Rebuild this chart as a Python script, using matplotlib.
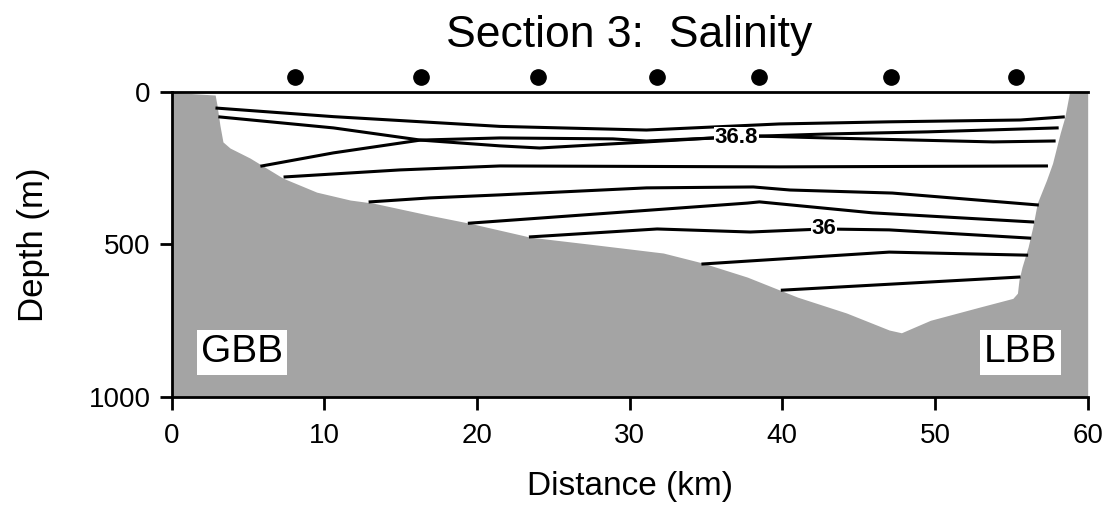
import matplotlib
matplotlib.use("Agg")
import matplotlib.pyplot as plt
import numpy as np

plt.rcParams['font.family'] = ['Liberation Sans', 'DejaVu Sans']

# station positions (km)
stations = [8.1, 16.3, 24.0, 31.8, 38.5, 47.1, 55.3]

# bottom topography: distance (km), depth (m)
bottom_x = [0.0, 2.85, 2.97, 3.16, 3.36, 3.82, 5.13, 7.29, 9.5, 11.7, 13.2, 16.9, 19.5, 23.5,
            27.9, 32.2, 34.8, 37.7, 41.0, 44.2, 47.0, 47.8, 49.7, 52.9, 55.1, 55.4, 55.5, 55.7,
            56.1, 56.4, 56.7, 57.3, 57.7, 58.2, 58.5, 58.8, 60.0]
bottom_d = [0, 9, 42, 108, 163, 183, 216, 282, 328, 354, 364, 404, 430, 476,
            502, 528, 561, 607, 673, 725, 781, 790, 749, 706, 677, 660, 617, 574,
            508, 443, 364, 289, 233, 134, 82, 3, 0]

# salinity isolines (km, m)
line_a_x = [2.97, 10.6, 21.5, 31.1, 39.8, 47.0, 55.6, 58.4]
line_a_d = [52, 80, 112, 124, 104, 97, 91, 81]
line_b_x = [3.16, 10.6, 16.3, 21.5, 24.1, 31.1, 35.5, 38.5, 42.9, 53.8, 57.8]
line_b_d = [81, 117, 157, 176, 183, 163, 150, 144, 150, 163, 160]
line_c_x = [5.91, 10.6, 16.3, 21.5, 28.9, 31.1, 35.5, 38.5, 42.9, 49.5, 58.0]
line_c_d = [242, 199, 157, 150, 153, 160, 150, 144, 137, 130, 117]
line_d_x = [7.43, 14.95, 21.5, 39.8, 57.3]
line_d_d = [278, 255, 242, 245, 242]
line_e_x = [13.0, 16.9, 21.5, 31.1, 38.1, 40.5, 47.2, 56.7]
line_e_d = [360, 347, 337, 314, 311, 321, 331, 370]
line_f_x = [19.5, 37.7, 38.5, 45.9, 56.4]
line_f_d = [430, 364, 360, 396, 426]
line_g_x = [23.5, 31.8, 37.9, 42.7, 47.0, 56.2]
line_g_d = [475, 449, 459, 449, 452, 479]
line_h_x = [34.8, 37.9, 47.0, 56.0]
line_h_d = [564, 554, 525, 535]
line_i_x = [40.0, 55.5]
line_i_d = [650, 607]

isolines = [(line_a_x, line_a_d), (line_b_x, line_b_d), (line_c_x, line_c_d),
            (line_d_x, line_d_d), (line_e_x, line_e_d), (line_f_x, line_f_d),
            (line_g_x, line_g_d), (line_h_x, line_h_d), (line_i_x, line_i_d)]

# contour labels: text, km, m
contour_labels = [("36.8", 37.0, 150), ("36", 42.7, 449)]
region_labels = [("GBB", 4.6, 854), ("LBB", 55.6, 854)]

fig = plt.figure(figsize=(11.11, 5.25), dpi=100)
ax = fig.add_axes([0.1545, 0.2444, 0.8245, 0.5798])

ax.fill_between(bottom_x, bottom_d, 1000, color='#a4a4a4', lw=0, zorder=1)
for xs, ds in isolines:
    ax.plot(xs, ds, color='black', lw=2.2, zorder=2)

for txt, x, d in contour_labels:
    ax.text(x, d, txt, fontsize=16, fontweight='bold', ha='center', va='center', zorder=3,
            bbox=dict(facecolor='white', edgecolor='none', pad=0.5))

for txt, x, d in region_labels:
    ax.text(x, d, txt, fontsize=28, ha='center', va='center', zorder=3,
            bbox=dict(facecolor='white', edgecolor='none', pad=3))

ax.plot(stations, [-50] * len(stations), 'o', color='black', ms=11, clip_on=False, zorder=4)

ax.set_xlim(0, 60)
ax.set_ylim(1000, 0)
ax.set_xticks([0, 10, 20, 30, 40, 50, 60])
ax.set_yticks([0, 500, 1000])
ax.spines['right'].set_visible(False)
for s in ['top', 'left', 'bottom']:
    ax.spines[s].set_linewidth(2)
ax.tick_params(axis='x', direction='out', length=9, width=2, labelsize=20, pad=10)
ax.tick_params(axis='y', direction='out', length=9, width=2, labelsize=20, pad=6)

ax.set_xlabel("Distance (km)", fontsize=24, labelpad=16)
ax.set_ylabel("Depth (m)", fontsize=25, labelpad=28)
fig.text(0.5665, 0.933, "Section 3:  Salinity", fontsize=32, ha='center', va='center')

fig.savefig("out.png", dpi=100)
